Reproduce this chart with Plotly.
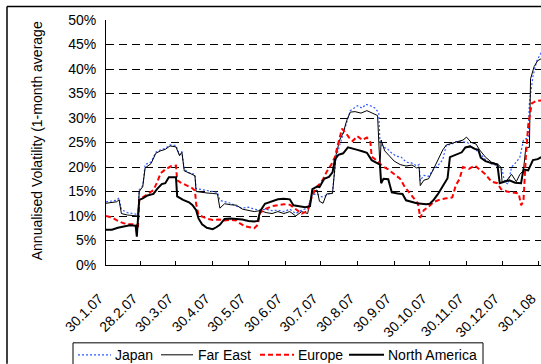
import pandas as pd
import plotly.graph_objects as go

START = "2007-01-30"

# Day offsets from 30 Jan 2007 and annualised volatility (%) per series
japan_days = [0, 5, 9, 11, 13, 18, 22, 27, 28, 31, 33, 38, 42, 46, 50, 54, 59, 62, 64, 66, 70, 75, 76, 80, 85, 90, 94, 96, 100, 105, 110, 115, 120, 125, 130, 135, 140, 145, 150, 155, 160, 165, 170, 174, 178, 182, 186, 191, 194, 197, 200, 203, 206, 209, 212, 216, 219, 223, 227, 230, 231, 234, 237, 241, 245, 249, 253, 258, 262, 264, 265, 268, 272, 276, 280, 284, 287, 291, 295, 300, 305, 308, 312, 315, 320, 325, 330, 334, 336, 339, 342, 346, 349, 352, 356, 357, 360, 363, 365, 367]
japan_vals = [12.9, 13.0, 13.2, 13.7, 11.3, 10.7, 10.5, 10.3, 15.3, 16.2, 20.5, 21.0, 23.0, 23.5, 23.8, 24.5, 24.4, 22.5, 23.2, 19.5, 18.8, 18.5, 15.6, 15.4, 15.2, 15.0, 14.8, 13.2, 12.9, 12.6, 12.0, 11.6, 11.8, 11.4, 11.2, 11.4, 11.1, 11.2, 10.9, 11.4, 10.5, 11.2, 11.6, 14.4, 14.5, 13.9, 14.2, 15.0, 22.0, 24.5, 27.0, 29.5, 31.5, 32.0, 32.5, 32.0, 32.8, 32.5, 32.0, 31.0, 25.0, 24.0, 23.8, 22.8, 22.2, 22.0, 21.0, 20.8, 20.2, 20.5, 17.2, 18.3, 18.1, 19.5, 20.3, 21.5, 24.5, 24.6, 25.2, 25.2, 25.0, 24.0, 23.5, 22.8, 21.5, 20.6, 20.3, 19.5, 17.0, 16.5, 20.0, 21.0, 22.0, 25.5, 26.0, 33.0, 38.5, 41.5, 42.5, 43.4]

fareast_days = [0, 5, 9, 11, 13, 18, 22, 27, 28, 31, 33, 38, 42, 46, 50, 54, 59, 62, 64, 66, 70, 75, 76, 80, 85, 90, 94, 96, 100, 105, 110, 115, 120, 125, 130, 135, 140, 145, 150, 155, 160, 165, 170, 174, 178, 180, 183, 186, 191, 194, 197, 200, 203, 206, 210, 215, 220, 225, 229, 231, 232, 235, 239, 243, 248, 253, 258, 262, 264, 265, 268, 272, 276, 280, 284, 287, 291, 296, 301, 304, 308, 312, 315, 320, 325, 330, 333, 334, 338, 342, 346, 349, 352, 354, 357, 358, 361, 364, 367]
fareast_vals = [12.6, 12.7, 12.9, 13.3, 10.5, 10.2, 10.1, 10.0, 15.0, 16.0, 19.8, 20.7, 22.8, 23.3, 23.6, 24.3, 24.1, 22.3, 23.0, 19.2, 18.8, 18.2, 15.0, 14.8, 14.7, 14.6, 14.5, 11.6, 12.5, 12.3, 12.2, 11.4, 11.2, 10.9, 11.1, 10.7, 10.5, 10.9, 10.5, 10.9, 10.0, 10.9, 10.5, 15.0, 15.3, 13.0, 12.6, 14.5, 14.6, 22.5, 25.5, 27.0, 29.5, 31.2, 31.3, 31.0, 31.5, 31.0, 30.5, 20.0, 25.5, 23.3, 22.2, 21.2, 20.5, 20.2, 20.4, 19.8, 20.0, 16.2, 17.3, 17.6, 19.5, 21.4, 23.5, 24.5, 24.8, 25.2, 25.5, 26.1, 25.0, 24.7, 23.5, 22.0, 21.0, 20.6, 20.0, 16.9, 17.3, 18.5, 17.0, 18.5, 19.3, 24.0, 24.0, 38.0, 40.5, 41.7, 42.1]

europe_days = [0, 5, 10, 15, 20, 25, 27, 28, 31, 35, 40, 43, 46, 50, 55, 59, 60, 63, 68, 72, 75, 76, 78, 82, 86, 90, 95, 100, 105, 110, 113, 117, 120, 125, 128, 130, 135, 140, 145, 150, 155, 160, 165, 170, 173, 177, 180, 183, 186, 190, 193, 196, 199, 202, 205, 208, 212, 216, 220, 223, 224, 228, 233, 238, 243, 248, 252, 256, 260, 263, 265, 268, 272, 276, 282, 287, 292, 295, 298, 301, 306, 311, 316, 320, 325, 330, 333, 338, 343, 348, 350, 352, 354, 356, 359, 363, 367]
europe_vals = [10.0, 9.7, 9.0, 8.5, 8.3, 8.3, 8.0, 13.3, 13.8, 14.4, 15.3, 16.8, 18.7, 19.5, 20.2, 20.3, 17.3, 16.8, 16.3, 15.8, 15.2, 12.5, 10.2, 9.8, 9.4, 9.2, 9.3, 9.1, 9.2, 9.1, 8.5, 7.9, 7.8, 7.5, 8.2, 10.7, 11.5, 12.0, 12.2, 12.4, 12.3, 11.4, 10.5, 11.0, 13.5, 15.8, 16.5, 17.5, 19.0, 20.5, 22.0, 25.0, 27.8, 27.0, 26.0, 25.3, 26.3, 25.5, 26.0, 25.0, 22.1, 21.4, 20.2, 19.5, 18.5, 17.6, 15.9, 14.6, 13.5, 12.6, 9.6, 11.2, 11.9, 12.8, 13.4, 13.6, 13.8, 16.3, 17.5, 20.0, 19.6, 20.3, 19.4, 18.5, 17.0, 16.7, 15.5, 15.0, 14.8, 14.6, 12.2, 13.0, 22.0, 28.5, 33.0, 33.5, 33.6]

namerica_days = [0, 5, 10, 15, 20, 25, 26, 28, 31, 35, 40, 43, 47, 50, 53, 59, 60, 65, 70, 73, 76, 78, 81, 85, 90, 93, 96, 100, 105, 110, 115, 120, 125, 128, 130, 134, 140, 145, 150, 155, 158, 163, 168, 172, 174, 178, 180, 184, 188, 191, 193, 196, 200, 204, 208, 212, 216, 220, 224, 228, 231, 232, 234, 238, 241, 246, 250, 253, 258, 262, 266, 270, 273, 276, 280, 284, 288, 290, 295, 300, 303, 307, 311, 314, 316, 320, 325, 330, 332, 336, 340, 345, 350, 352, 356, 360, 364, 367]
namerica_vals = [7.2, 7.2, 7.6, 7.9, 8.1, 8.0, 5.8, 13.3, 13.6, 14.2, 14.5, 15.5, 16.5, 16.7, 17.9, 17.9, 14.0, 13.3, 12.8, 12.2, 11.2, 9.5, 8.3, 7.6, 7.3, 7.7, 8.2, 9.4, 9.5, 9.4, 9.3, 9.0, 8.9, 9.0, 11.0, 12.5, 13.0, 13.4, 13.5, 13.4, 12.2, 12.0, 11.8, 12.0, 15.5, 16.0, 15.9, 17.6, 18.0, 18.9, 21.5, 22.5, 22.8, 24.0, 23.8, 23.5, 23.2, 22.9, 21.4, 20.8, 20.5, 16.7, 17.6, 17.5, 14.8, 14.6, 14.5, 13.2, 12.8, 12.6, 12.5, 12.4, 12.5, 13.2, 14.5, 16.0, 17.7, 22.0, 22.5, 23.0, 24.0, 24.2, 23.7, 23.5, 21.9, 21.2, 20.8, 20.5, 16.7, 17.0, 17.3, 16.8, 16.7, 19.5, 19.3, 21.4, 21.6, 22.0]

series_names = ["Japan", "Far East", "Europe", "North America"]
tick_dates = ["2007-01-30", "2007-02-28", "2007-03-30", "2007-04-30", "2007-05-30", "2007-06-30",
              "2007-07-30", "2007-08-30", "2007-09-30", "2007-10-30", "2007-11-30", "2007-12-30", "2008-01-30"]
tick_labels = ["30.1.07", "28.2.07", "30.3.07", "30.4.07", "30.5.07", "30.6.07",
               "30.7.07", "30.8.07", "30.9.07", "30.10.07", "30.11.07", "30.12.07", "30.1.08"]
y_ticks = [0, 5, 10, 15, 20, 25, 30, 35, 40, 45, 50]
y_labels = [f"{v}%" for v in y_ticks]

start = pd.Timestamp(START)
def to_dates(days):
    return start + pd.to_timedelta(days, unit="D")

FONT = "Arial, Liberation Sans, sans-serif"
W, H = 541, 364
L, R, T, B = 106, 0, 19.5, 99
pw, ph = W - L - R, H - T - B
def px_x(px):
    return (px - L) / pw
def px_y(py):
    return (H - B - py) / ph

styles = [
    dict(color="#2f5cff", width=1.2, dash="2px,2px"),
    dict(color="#000000", width=1),
    dict(color="#ff0000", width=2, dash="5px,3px"),
    dict(color="#000000", width=2),
]
all_days = [japan_days, fareast_days, europe_days, namerica_days]
all_vals = [japan_vals, fareast_vals, europe_vals, namerica_vals]

fig = go.Figure()
for name, d, v, st in zip(series_names, all_days, all_vals, styles):
    fig.add_trace(go.Scatter(x=to_dates(d), y=v, name=name, mode="lines", line=st, showlegend=False))

# Legend drawn as a boxed row below the chart (box partly cut by the picture edge)
legend_line_px = [(78, 111), (161, 193), (260, 294), (349, 384)]
legend_text_px = [114, 197, 297, 387]
LEG_Y = 355
shapes = [
    dict(type="line", xref="paper", yref="paper", x0=px_x(7), x1=px_x(541), y0=px_y(6), y1=px_y(6),
         line=dict(color="black", width=1.5)),
    dict(type="line", xref="paper", yref="paper", x0=px_x(7), x1=px_x(7), y0=px_y(6), y1=px_y(364),
         line=dict(color="black", width=1.5)),
    dict(type="rect", xref="paper", yref="paper", x0=px_x(73), x1=px_x(483), y0=px_y(343), y1=px_y(370),
         line=dict(color="black", width=1), fillcolor="white", layer="below"),
]
annotations = [
    dict(text="Annualised Volatility (1-month average", xref="paper", yref="paper",
         x=px_x(37), y=px_y(141), textangle=-90, showarrow=False,
         xanchor="center", yanchor="middle", font=dict(size=14)),
]
for name, (a, b), tx, st in zip(series_names, legend_line_px, legend_text_px, styles):
    shapes.append(dict(type="line", xref="paper", yref="paper", x0=px_x(a), x1=px_x(b),
                       y0=px_y(LEG_Y), y1=px_y(LEG_Y), line=st))
    annotations.append(dict(text=name, xref="paper", yref="paper", x=px_x(tx), y=px_y(LEG_Y),
                            xanchor="left", yanchor="middle", showarrow=False,
                            font=dict(size=14), borderpad=0))

fig.update_layout(
    width=W, height=H, autosize=False,
    margin=dict(l=L, r=R, t=T, b=B, pad=0, autoexpand=False),
    paper_bgcolor="white", plot_bgcolor="white",
    font=dict(family=FONT, size=14, color="black"),
    showlegend=False,
    xaxis=dict(type="date", range=[start, start + pd.Timedelta(days=366.8)],
               tickvals=pd.to_datetime(tick_dates), ticktext=tick_labels, tickangle=-45,
               ticks="inside", ticklen=4, tickcolor="black", showline=True, linecolor="black",
               linewidth=1, showgrid=False, zeroline=False, tickfont=dict(size=14),
               ticklabelstandoff=19, ticklabelshift=-7, ticklabeloverflow="allow",
               automargin=False),
    yaxis=dict(range=[0, 50], tickvals=y_ticks, ticktext=y_labels, showline=True, linecolor="black",
               linewidth=1, showgrid=True, gridcolor="black", gridwidth=1, griddash="8px,5px",
               zeroline=False, ticks="", tickfont=dict(size=14), ticklabelstandoff=6,
               automargin=False),
    shapes=shapes,
    annotations=annotations,
)

fig.write_html("out.html")
